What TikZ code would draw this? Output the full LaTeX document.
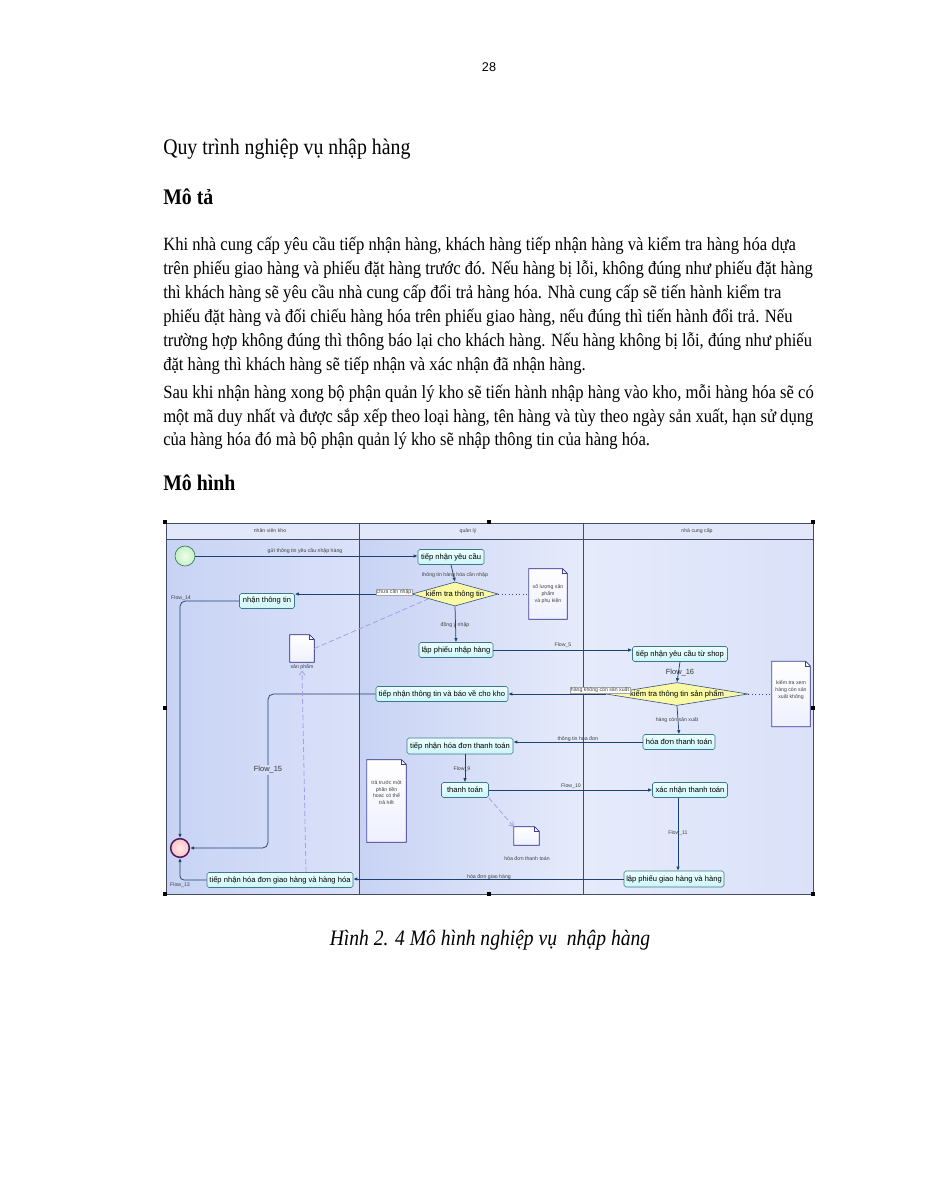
\documentclass[tikz,border=0pt]{standalone}
\usepackage{fontspec}
\setmainfont{Liberation Serif}[FakeStretch=0.89]
\setsansfont{Liberation Sans}
\usetikzlibrary{shapes.geometric,arrows.meta,calc}
\definecolor{flow}{RGB}{30,65,115}
\definecolor{boxfill}{RGB}{205,245,248}
\definecolor{boxtop}{RGB}{235,255,255}
\definecolor{boxdraw}{RGB}{60,120,140}
\definecolor{decfill}{RGB}{250,250,165}
\definecolor{decdraw}{RGB}{50,80,130}
\definecolor{notedraw}{RGB}{60,60,150}
\definecolor{notefill}{RGB}{238,240,255}
\definecolor{objcol}{RGB}{165,160,230}
\definecolor{dotcol}{RGB}{60,60,170}
\definecolor{laneA}{RGB}{200,211,244}
\definecolor{laneB}{RGB}{230,235,251}
\definecolor{laneC}{RGB}{218,225,249}
\definecolor{headfill}{RGB}{226,231,250}
\definecolor{framecol}{RGB}{70,75,100}
\definecolor{lblbg}{RGB}{212,220,247}
\newcommand\dgtiny{\sffamily\fontsize{3.9}{5.1}\selectfont}
\newcommand\dgbox{\sffamily\fontsize{5.7}{6.4}\selectfont}
\newcommand\dgflow{\sffamily\fontsize{5.6}{6}\selectfont}
\newcommand\pbody{\fontsize{14}{18}\selectfont}
\begin{document}
\begin{tikzpicture}[x=0.75pt,y=-0.75pt,
  ptext/.style={anchor=base west, inner sep=0pt, font=\pbody},
  act/.style={draw=boxdraw, top color=boxtop, bottom color=boxfill, rounded corners=1.3pt, line width=0.45pt, font=\dgbox, inner sep=0pt, minimum height=11.25pt},
  bw/.style={minimum width=#1*0.75pt},
  bh/.style={minimum height=#1*0.75pt},
  dec/.style={diamond, draw=decdraw, fill=decfill, line width=0.45pt, font=\dgbox, inner sep=0pt},
  fa/.style={draw=flow, line width=0.55pt, -{Latex[length=3pt,width=2.6pt]}},
  lbl/.style={font=\dgtiny, text=black!75, inner sep=0.5pt},
  wlbl/.style={lbl, fill=white, draw=gray!70, line width=0.2pt},
  flbl/.style={font=\dgflow, text=black!80, inner sep=0.8pt},
  notebox/.style={inner sep=0pt},
  notetext/.style={font=\dgtiny, text=black!75, align=center, inner sep=0pt},
  objf/.style={draw=objcol, dash pattern=on 4pt off 2pt, line width=0.6pt},
  dotl/.style={draw=dotcol, dotted, line width=0.6pt},
  handle/.style={fill=black},
]
\useasboundingbox (0,0) rectangle (927,1200);
\fill[white] (0,0) rectangle (927,1200);

% ---------- page text ----------
\node[anchor=base, inner sep=0pt, font=\sffamily\fontsize{9.5}{11}\selectfont] (pnum) at (489,71) {28};
\node[ptext, font=\fontsize{16.7}{20}\selectfont] (title) at (163,154) {Quy trình nghiệp vụ nhập hàng};
\node[ptext, font=\fontsize{16.7}{20}\selectfont\bfseries] (mota) at (163,204) {Mô tả};
\node[ptext] (p1) at (163,250) {Khi nhà cung cấp yêu cầu tiếp nhận hàng, khách hàng tiếp nhận hàng và kiểm tra hàng hóa dựa};
\node[ptext] (p2) at (163,274) {trên phiếu giao hàng và phiếu đặt hàng trước đó. Nếu hàng bị lỗi, không đúng như phiếu đặt hàng};
\node[ptext] (p3) at (163,298) {thì khách hàng sẽ yêu cầu nhà cung cấp đổi trả hàng hóa. Nhà cung cấp sẽ tiến hành kiểm tra};
\node[ptext] (p4) at (163,322) {phiếu đặt hàng và đối chiếu hàng hóa trên phiếu giao hàng, nếu đúng thì tiến hành đổi trả. Nếu};
\node[ptext] (p5) at (163,346) {trường hợp không đúng thì thông báo lại cho khách hàng. Nếu hàng không bị lỗi, đúng như phiếu};
\node[ptext] (p6) at (163,370) {đặt hàng thì khách hàng sẽ tiếp nhận và xác nhận đã nhận hàng.};
\node[ptext] (q1) at (163,398) {Sau khi nhận hàng xong bộ phận quản lý kho sẽ tiến hành nhập hàng vào kho, mỗi hàng hóa sẽ có};
\node[ptext] (q2) at (163,422) {một mã duy nhất và được sắp xếp theo loại hàng, tên hàng và tùy theo ngày sản xuất, hạn sử dụng};
\node[ptext] (q3) at (163,445) {của hàng hóa đó mà bộ phận quản lý kho sẽ nhập thông tin của hàng hóa.};
\node[ptext, font=\fontsize{16.7}{20}\selectfont\bfseries] (mohinh) at (163,490) {Mô hình};
\node[anchor=base, inner sep=0pt, font=\fontsize{16.5}{20}\selectfont\itshape] (cap) at (490,945) {Hình 2. 4 Mô hình nghiệp vụ \ nhập hàng};

% ---------- swimlanes ----------
\shade[left color=laneA, right color=laneC] (166,539) rectangle (359,894);
\shade[left color=laneA, right color=laneB] (359,539) rectangle (583,894);
\shade[left color=laneB, right color=laneC] (583,539) rectangle (813,894);
\fill[headfill] (166,523) rectangle (813,539);
\draw[framecol, line width=0.5pt] (166,523) rectangle (813,894);
\draw[framecol, line width=0.5pt] (166,539) -- (813,539);
\draw[framecol, line width=0.6pt] (359,523) -- (359,894);
\draw[framecol, line width=0.6pt] (583,523) -- (583,894);
\node[lbl] (h1) at (270,531) {nhân viên kho};
\node[lbl] (h2) at (468,531) {quản lý};
\node[lbl] (h3) at (697,531) {nhà cung cấp};
% selection handles
\foreach \hx/\hy in {165/522,489/522,813/522,165/708,813/708,165/894,489/894,813/894}
  \fill[handle] (\hx-1.8,\hy-1.8) rectangle (\hx+1.8,\hy+1.8);

% ---------- nodes ----------
\node[circle, draw={rgb,255:red,60;green,120;blue,100}, line width=0.5pt, inner color={rgb,255:red,240;green,255;blue,235}, outer color={rgb,255:red,195;green,240;blue,195}, minimum size=15pt, inner sep=0pt] (start) at (185,556) {};
\node[circle, draw={rgb,255:red,80;green,20;blue,80}, line width=1.1pt, inner color={rgb,255:red,255;green,232;blue,225}, outer color={rgb,255:red,245;green,195;blue,205}, minimum size=14pt, inner sep=0pt] (end) at (180,848) {};

\node[act, bw=66] (tnyc) at (451,557) {tiếp nhận yêu cầu};
\node[dec, minimum width=86*0.75pt, minimum height=24*0.75pt, aspect=3.6] (ktt) at (455,594) {kiểm tra thông tin};
\node[act, bw=55] (ntt) at (267,601) {nhận thông tin};
\node[act, bw=74] (lpnh) at (456,650) {lập phiếu nhập hàng};
\node[act, bw=95] (tnycts) at (680,654) {tiếp nhận yêu cầu từ shop};
\node[dec, minimum width=142*0.75pt, minimum height=23*0.75pt, aspect=6.2] (kttsp) at (677,694) {kiểm tra thông tin sản phẩm};
\node[act, bw=132] (tnbv) at (442,694) {tiếp nhận thông tin và báo về cho kho};
\node[act, bw=72] (hdtt) at (679,742) {hóa đơn thanh toán};
\node[act, bw=106, bh=16] (tnhdtt) at (460,746) {tiếp nhận hóa đơn thanh toán};
\node[act, bw=47] (tt) at (465,790) {thanh toán};
\node[act, bw=75] (xntt) at (690,790) {xác nhận thanh toán};
\node[act, bw=100, bh=16] (lpgh) at (674,879) {lập phiếu giao hàng và hàng};
\node[act, bw=146] (tnhdgh) at (280,880) {tiếp nhận hóa đơn giao hàng và hàng hóa};

% ---------- notes ----------
\node[notebox, minimum width=38*0.75pt, minimum height=50*0.75pt] (n1) at (548,594) {};
\node[notebox, minimum width=38*0.75pt, minimum height=65*0.75pt] (n2) at (791,694) {};
\node[notebox, minimum width=39*0.75pt, minimum height=82*0.75pt] (n3) at (386.5,801) {};
\node[notebox, minimum width=24*0.75pt, minimum height=27*0.75pt] (spn) at (302,648.5) {};
\node[notebox, minimum width=25*0.75pt, minimum height=18*0.75pt] (hdn) at (526.5,836) {};
\foreach \nn in {n1,n2,n3,spn,hdn}{
  \filldraw[draw=notedraw, top color=white, bottom color=notefill, line width=0.5pt]
    (\nn.south west) -- (\nn.north west) -- ([xshift=-3.5pt]\nn.north east) -- ([yshift=-3.5pt]\nn.north east) -- (\nn.south east) -- cycle;
  \draw[notedraw, line width=0.4pt] ([xshift=-3.5pt]\nn.north east) -- ([xshift=-3.5pt,yshift=-3.5pt]\nn.north east) -- ([yshift=-3.5pt]\nn.north east);
}
\node[notetext] (n1t) at (548,594) {số lượng sản\\phẩm\\và phụ kiện};
\node[notetext] (n2t) at (791,690) {kiểm tra xem\\hàng còn sản\\xuất không};
\node[notetext] (n3t) at (386.5,792.5) {trả trước một\\phần tiền\\hoac có thể\\trả hết};
\node[lbl] (spl) at (302,667) {sản phẩm};
\node[lbl] (hdl) at (527,859) {hóa đơn thanh toán};

% ---------- connectors ----------
\draw[fa] (start.east) -- (start.east -| tnyc.west);
\node[lbl] (l1) at (305,551) {gửi thông tin yêu cầu nhập hàng};
\draw[fa] (tnyc.south) -- (ktt.north);
\node[lbl] (l2) at (455,575) {thông tin hàng hóa cần nhập};
\draw[fa] (ktt.west) -- (ktt.west -| ntt.east);
\node[wlbl] (l3) at (394,592) {chưa cần nhập};
\draw[fa, rounded corners=4pt] (ntt.west) -| (end.north);
\node[lbl] (l4) at (181,598) {Flow\_14};
\draw[fa] (ktt.south) -- (lpnh.north);
\node[lbl] (l5) at (455,625) {đồng ý nhập};
\draw[fa] (lpnh.east) -- (lpnh.east -| tnycts.west);
\node[lbl] (l6) at (563,645) {Flow\_5};
\draw[fa] (tnycts.south) -- (kttsp.north);
\node[flbl] (l7) at (680,673) {Flow\_16};
\draw[fa] (kttsp.west) -- (kttsp.west -| tnbv.east);
\node[wlbl] (l8) at (600,690) {hàng không còn sản xuất};
\draw[fa] (kttsp.south) -- (hdtt.north);
\node[lbl] (l9) at (677,720) {hàng còn sản xuất};
\draw[fa] (hdtt.west) -- (hdtt.west -| tnhdtt.east);
\node[lbl] (l10) at (578,739) {thông tin hóa đơn};
\draw[fa] (tt.north |- tnhdtt.south) -- (tt.north);
\node[lbl] (l11) at (462,769) {Flow\_9};
\draw[fa] (tt.east) -- (tt.east -| xntt.west);
\node[lbl] (l12) at (571,786) {Flow\_10};
\draw[fa] ([xshift=-9pt]xntt.south) -- ([xshift=-9pt]xntt.south |- lpgh.north);
\node[lbl] (l13) at (678,833) {Flow\_11};
\draw[fa] (lpgh.west) -- (lpgh.west -| tnhdgh.east);
\node[lbl] (l14) at (489,877) {hóa đơn giao hàng};
\draw[fa, rounded corners=3pt] (tnhdgh.west) -| (end.south);
\node[lbl] (l15) at (180,885) {Flow\_13};
\coordinate (f15) at (268,848);
\draw[fa, rounded corners=4pt] (tnbv.west) -| (f15) -- (end.east);
\node[flbl, fill=lblbg] (l16) at (268,770) {Flow\_15};

% dotted annotation links
\draw[dotl] (ktt.east) -- (ktt.east -| n1.west);
\draw[dotl] (kttsp.east) -- (kttsp.east -| n2.west);
% object flows
\draw[objf] (spn.east) -- ($(ktt.center)+(-27,5)$);
\draw[objf, -{Straight Barb[length=3pt,width=4.5pt]}] ($(tnhdgh.north)+(26,0)$) -- (spl.south);
\draw[objf, -{Straight Barb[length=3pt,width=4.5pt]}] (tt.south east) -- (hdn.north west);
\end{tikzpicture}
\end{document}
